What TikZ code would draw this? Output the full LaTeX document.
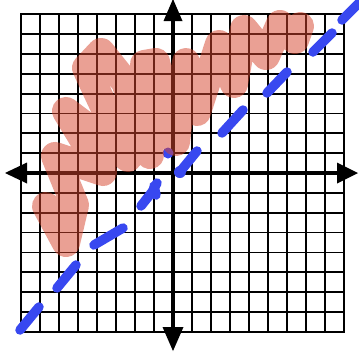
\documentclass[tikz,border=0pt]{standalone}
\usepackage{tikz}
\definecolor{markred}{RGB}{215,70,47}
\definecolor{penblue}{RGB}{56,72,240}
\begin{document}
\begin{tikzpicture}[x=1pt,y=-1pt,
  gridline/.style={line width=1.8pt,black,line cap=rect},
  axisline/.style={line width=4pt,black},
  arrowtri/.style={fill=black},
  pen/.style={penblue,line width=9.5pt,line cap=round,line join=round},
  marker/.style={markred,opacity=0.51,line width=28pt,line cap=round,line join=round}]
\useasboundingbox (0,0) rectangle (359,351);
\fill[white] (0,0) rectangle (359,351);
% grid
\foreach \i in {-8,...,9}
  \draw[gridline] ({173+19*\i},14.2) -- ({173+19*\i},331.8);
\foreach \j in {-8,...,8}
  \draw[gridline] (21,{173+19.85*\j}) -- (344,{173+19.85*\j});
% axes
\coordinate (xl) at (5,173);
\coordinate (xr) at (358,173);
\coordinate (yt) at (173,-1);
\coordinate (yb) at (173,351);
\draw[axisline] (24,173) -- (340,173);
\draw[axisline] (173,18) -- (173,330);
\fill[arrowtri] (xl) -- (27,162.5) -- (27,183.5) -- cycle;
\fill[arrowtri] (xr) -- (337,162.5) -- (337,183.5) -- cycle;
\fill[arrowtri] (yt) -- (163.5,21) -- (182.5,21) -- cycle;
\fill[arrowtri] (yb) -- (162.5,327) -- (183.5,327) -- cycle;
% blue dashed line (hand drawn)
\draw[pen] (20,330) -- (39,307);
\draw[pen] (57,288) -- (76,265);
\draw[pen] (94,245) -- (123,228);
\draw[pen] (141,206) -- (152,192) -- (157,183);
\draw[pen] (154,186) -- (156,195);
\draw[pen] (179,173) -- (197,151);
\fill[penblue] (180,172) circle (6);
\fill[penblue] (168,153) circle (5.5);
\draw[pen] (222,133) -- (243,110);
\draw[pen] (267,93) -- (287,72);
\draw[pen] (313,52) -- (332,33);
\draw[pen] (342,20) -- (365,-3);
% shading scribble
\draw[marker] (46,206) -- (66,243) -- (75,205) -- (55,156) -- (103,172)
  -- (66,111) -- (128,158) -- (86,68) -- (101,52) -- (125,82) -- (150,155)
  -- (144,64) -- (156,62) -- (176,142) -- (186,62) -- (197,112) -- (219,44)
  -- (234,84) -- (244,29) -- (266,56) -- (280,24) -- (295,40) -- (300,26);
\end{tikzpicture}
\end{document}
